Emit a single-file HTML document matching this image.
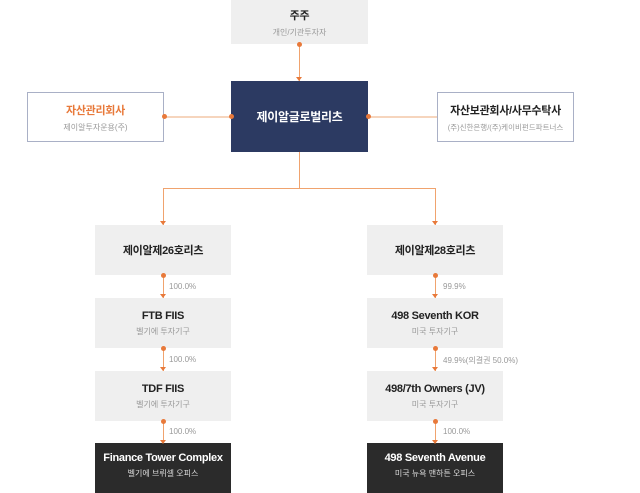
<!DOCTYPE html>
<html><head><meta charset="utf-8"><style>
body{margin:0;width:640px;height:487px;background:#fff;position:relative;overflow:hidden;font-family:"Liberation Sans","Noto Sans CJK KR",sans-serif}
.b{position:absolute;box-sizing:border-box;display:flex;flex-direction:column;align-items:center;justify-content:center;text-align:center}
.g{background:#efefef}
.t{font-size:11px;font-weight:bold;color:#222;letter-spacing:-0.3px}
.s{font-size:8px;color:#999;margin-top:4px}
.w{background:#fff;border:1px solid #a9b0c6}
.d{background:#2b2b2b}
.d .t{color:#fff}.d .s{color:#ddd}
.l{position:absolute;background:#f0a36e}
.dot{position:absolute;width:5px;height:5px;border-radius:50%;background:#e8793a}
.ar{position:absolute;width:0;height:0;border-left:3px solid transparent;border-right:3px solid transparent;border-top:4px solid #e8793a}
.p{position:absolute;font-size:8px;color:#999}
</style></head><body>
<div class="b g" style="left:231px;top:0;width:137px;height:44px"><div class="t">주주</div><div class="s">개인/기관투자자</div></div>
<div class="b" style="left:231px;top:81px;width:137px;height:71px;background:#2c3a62"><div class="t" style="color:#fff;font-size:12px">제이알글로벌리츠</div></div>
<div class="b w" style="left:27px;top:92px;width:137px;height:50px"><div class="t" style="color:#e8793a">자산관리회사</div><div class="s">제이알투자운용(주)</div></div>
<div class="b w" style="left:437px;top:92px;width:137px;height:50px"><div class="t">자산보관회사/사무수탁사</div><div class="s" style="font-size:7.5px">(주)신한은행/(주)케이비펀드파트너스</div></div>
<div class="l" style="left:299px;top:44px;width:1px;height:37px"></div><div class="dot" style="left:297px;top:42px"></div><div class="ar" style="left:296px;top:77px"></div>
<div class="l" style="left:164px;top:116px;width:67px;height:2px;background:#f6d5bd"></div><div class="dot" style="left:162px;top:114px"></div><div class="dot" style="left:229px;top:114px"></div>
<div class="l" style="left:368px;top:116px;width:69px;height:2px;background:#f6d5bd"></div><div class="dot" style="left:366px;top:114px"></div>
<div class="l" style="left:299px;top:152px;width:1px;height:36px"></div>
<div class="l" style="left:163px;top:188px;width:273px;height:1px"></div>
<div class="l" style="left:163px;top:188px;width:1px;height:37px"></div><div class="ar" style="left:160px;top:221px"></div>
<div class="l" style="left:435px;top:188px;width:1px;height:37px"></div><div class="ar" style="left:432px;top:221px"></div>
<div class="b g" style="left:95px;top:225px;width:136px;height:50px"><div class="t">제이알제26호리츠</div></div>
<div class="b g" style="left:367px;top:225px;width:136px;height:50px"><div class="t">제이알제28호리츠</div></div>
<div class="b g" style="left:95px;top:298px;width:136px;height:50px"><div class="t">FTB FIIS</div><div class="s">벨기에 투자기구</div></div>
<div class="b g" style="left:367px;top:298px;width:136px;height:50px"><div class="t">498 Seventh KOR</div><div class="s">미국 투자기구</div></div>
<div class="b g" style="left:95px;top:371px;width:136px;height:50px"><div class="t">TDF FIIS</div><div class="s">벨기에 투자기구</div></div>
<div class="b g" style="left:367px;top:371px;width:136px;height:50px"><div class="t">498/7th Owners (JV)</div><div class="s">미국 투자기구</div></div>
<div class="b d" style="left:95px;top:443px;width:136px;height:50px;padding-bottom:6px"><div class="t">Finance Tower Complex</div><div class="s">벨기에 브뤼셀 오피스</div></div>
<div class="b d" style="left:367px;top:443px;width:136px;height:50px;padding-bottom:6px"><div class="t">498 Seventh Avenue</div><div class="s">미국 뉴욕 맨하튼 오피스</div></div>
<!-- connectors -->
<div class="l" style="left:163px;top:275px;width:1px;height:23px"></div><div class="dot" style="left:161px;top:273px"></div><div class="ar" style="left:160px;top:294px"></div><div class="p" style="left:169px;top:282px">100.0%</div>
<div class="l" style="left:163px;top:348px;width:1px;height:23px"></div><div class="dot" style="left:161px;top:346px"></div><div class="ar" style="left:160px;top:367px"></div><div class="p" style="left:169px;top:355px">100.0%</div>
<div class="l" style="left:163px;top:421px;width:1px;height:22px"></div><div class="dot" style="left:161px;top:419px"></div><div class="ar" style="left:160px;top:440px"></div><div class="p" style="left:169px;top:427px">100.0%</div>
<div class="l" style="left:435px;top:275px;width:1px;height:23px"></div><div class="dot" style="left:433px;top:273px"></div><div class="ar" style="left:432px;top:294px"></div><div class="p" style="left:443px;top:282px">99.9%</div>
<div class="l" style="left:435px;top:348px;width:1px;height:23px"></div><div class="dot" style="left:433px;top:346px"></div><div class="ar" style="left:432px;top:367px"></div><div class="p" style="left:443px;top:355px">49.9%(의결권 50.0%)</div>
<div class="l" style="left:435px;top:421px;width:1px;height:22px"></div><div class="dot" style="left:433px;top:419px"></div><div class="ar" style="left:432px;top:440px"></div><div class="p" style="left:443px;top:427px">100.0%</div>
</body></html>
